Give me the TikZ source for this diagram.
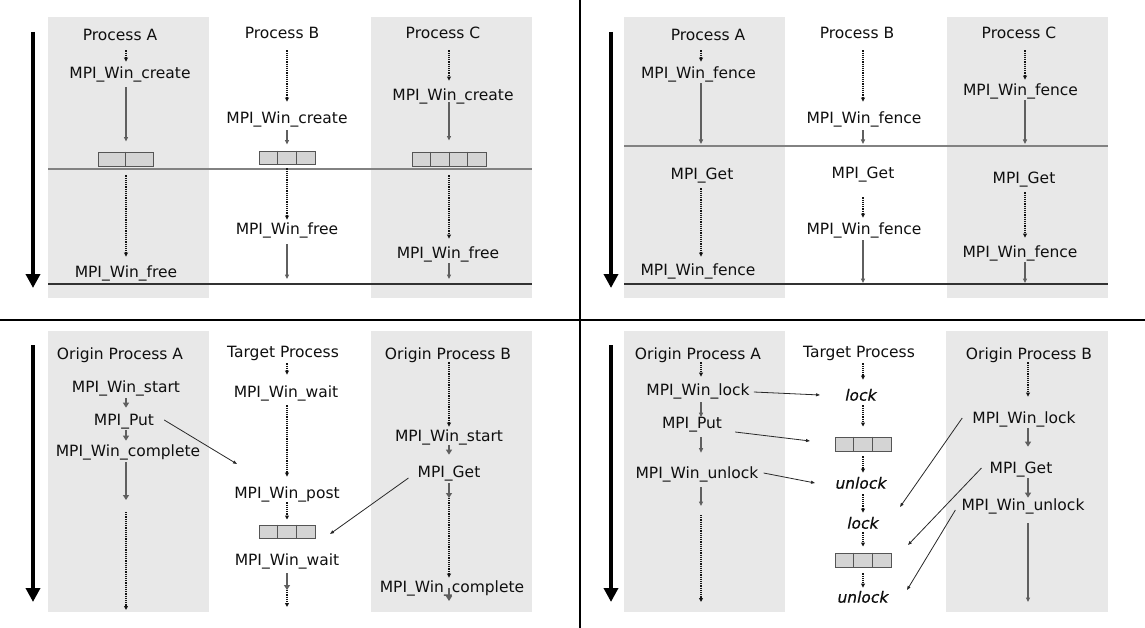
\documentclass[tikz,border=0pt]{standalone}
\usepackage{fontspec}
\setmainfont{DejaVu Sans}
\newfontfamily\obfont{DejaVu Sans}[FakeSlant=0.2,FakeBold=0.6]
\usetikzlibrary{arrows.meta,calc}

\definecolor{lanebg}{RGB}{232,232,232}
\definecolor{winfill}{RGB}{212,212,212}
\definecolor{winedge}{RGB}{85,85,85}
\definecolor{dotc}{RGB}{20,20,20}
\definecolor{solc}{RGB}{95,95,95}
\definecolor{diagc}{RGB}{40,40,40}
\definecolor{fencec}{RGB}{130,130,130}
\definecolor{endc}{RGB}{50,50,50}
\definecolor{txt}{RGB}{15,15,15}

% split a window node into #2 equal cells
\newcommand\splitwin[2]{%
  \pgfmathtruncatemacro\lastdiv{#2-1}%
  \foreach \k in {1,...,\lastdiv}{%
    \draw[winsep] ($(#1.north west)!\k/#2!(#1.north east)$) -- ($(#1.south west)!\k/#2!(#1.south east)$);}}

\begin{document}
\begin{tikzpicture}[x=1pt,y=-1pt,
  lbl/.style={font=\fontsize{15.5}{18}\selectfont, text=txt, inner sep=0pt, text height=11.3pt, text depth=0pt},
  ob/.style={lbl, font=\fontsize{15.5}{18}\selectfont\obfont},
  lane/.style={fill=lanebg, draw=none},
  winbox/.style={draw=winedge, fill=winfill, line width=0.9pt, inner sep=0pt, minimum height=14pt},
  winsep/.style={draw=winedge, line width=0.9pt},
  dotarr/.style={draw=dotc, line width=1.25pt, dash pattern=on 1.2pt off 1pt, -{Triangle[length=4pt,width=3.8pt]}},
  solarr/.style={draw=solc, line width=1.1pt, -{Triangle[length=4.5pt,width=4pt]}},
  fatarr/.style={draw=solc, line width=2.2pt, -{Triangle[length=5pt,width=6pt]}},
  diagarr/.style={draw=diagc, line width=0.8pt, -{Triangle[length=4pt,width=3pt]}},
  timearr/.style={line width=4.5pt, -{Triangle[length=14pt,width=14pt]}},
  fenceline/.style={draw=fencec, line width=1.3pt},
  endline/.style={draw=endc, line width=1.2pt},
  divider/.style={line width=2.8pt},
  sh/.style 2 args={shorten <=#1pt, shorten >=#2pt},
]
\useasboundingbox (0,0) rectangle (1145,628);

% ---------- process lanes ----------
\fill[lane] (48,17) rectangle (209,298);
\fill[lane] (371,17) rectangle (532,298);
\fill[lane] (624,17) rectangle (785,298);
\fill[lane] (947,17) rectangle (1108,298);
\fill[lane] (48,331) rectangle (209,612);
\fill[lane] (371,331) rectangle (532,612);
\fill[lane] (624,331) rectangle (785,612);
\fill[lane] (946,331) rectangle (1108,612);

% ---------- synchronisation lines ----------
\draw[fenceline] (48,169) -- (532,169);
\draw[endline] (48,284) -- (532,284);
\draw[fenceline] (624,146) -- (1108,146);
\draw[endline] (624,284) -- (1108,284);

% ---------- quadrant dividers ----------
\draw[divider] (580,0) -- (580,628);
\draw[divider] (0,320) -- (1145,320);

% ---------- time arrows ----------
\draw[timearr] (33,32) -- (33,288);
\draw[timearr] (611,32) -- (611,288);
\draw[timearr] (33,345) -- (33,602);
\draw[timearr] (611,345) -- (611,602);

% ---------- lane axes and free arrow ends ----------
\coordinate (colA1) at (126,0);
\coordinate (colB1) at (287,0);
\coordinate (colC1) at (449,0);
\coordinate (colA2) at (701,0);
\coordinate (colB2) at (863,0);
\coordinate (colC2) at (1025,0);
\coordinate (colC3) at (1028,0);

\coordinate (tlBend) at (287,279);
\coordinate (tlCend) at (449,279);
\coordinate (trAend) at (701,144);
\coordinate (trBend1) at (863,144);
\coordinate (trCend1) at (1025,144);
\coordinate (trBend2) at (863,283);
\coordinate (trCend2) at (1025,283);
\coordinate (blAmid) at (126,500);
\coordinate (blAend) at (126,610);
\coordinate (blBmid) at (287,590);
\coordinate (blBend) at (287,607);
\coordinate (blCmid) at (449,498);
\coordinate (blCend) at (449,601);
\coordinate (putEnd) at (237,464);
\coordinate (getEnd) at (330,534);
\coordinate (brAmid) at (701,506);
\coordinate (brAend) at (701,602);
\coordinate (brCend) at (1028,602);
\coordinate (lkEnd1) at (820,395);
\coordinate (ptEnd) at (810,441);
\coordinate (ulEnd1) at (815,483);
\coordinate (lkEnd2) at (900,507);
\coordinate (gtEnd) at (908,545);
\coordinate (ulEnd2) at (907,590);

% ================= window creation =================
\node[lbl] (tlPA) at (120,35) {Process A};
\node[lbl] (tlAc) at (130,73) {MPI\_Win\_create};
\node[winbox, minimum width=55pt] (tlAw) at (125.5,159) {};
\node[lbl] (tlAf) at (126,272) {MPI\_Win\_free};
\node[lbl] (tlPB) at (282,33) {Process B};
\node[lbl] (tlBc) at (287,118) {MPI\_Win\_create};
\node[winbox, minimum width=56pt, minimum height=13pt] (tlBw) at (287,157.5) {};
\node[lbl] (tlBf) at (287,229) {MPI\_Win\_free};
\node[lbl] (tlPC) at (443,33) {Process C};
\node[lbl] (tlCc) at (453,95) {MPI\_Win\_create};
\node[winbox, minimum width=74pt] (tlCw) at (449,159) {};
\node[lbl] (tlCf) at (448,253) {MPI\_Win\_free};
\splitwin{tlAw}{2}
\splitwin{tlBw}{3}
\splitwin{tlCw}{4}

\draw[dotarr, sh={9.5}{5.5}] (tlPA.south -| colA1) -- (tlAc.north -| colA1);
\draw[solarr, sh={8.5}{10}] (tlAc.south -| colA1) -- (tlAw.north -| colA1);
\draw[dotarr, sh={9}{9.5}] (tlAw.south -| colA1) -- (tlAf.north -| colA1);
\draw[dotarr, sh={11.5}{10.5}] (tlPB.south -| colB1) -- (tlBc.north -| colB1);
\draw[solarr, sh={6.5}{6}] (tlBc.south -| colB1) -- (tlBw.north -| colB1);
\draw[dotarr, sh={4}{3.5}] (tlBw.south -| colB1) -- (tlBf.north -| colB1);
\draw[solarr, sh={9.5}{0}] (tlBf.south -| colB1) -- (tlBend);
\draw[dotarr, sh={11.5}{8.5}] (tlPC.south -| colC1) -- (tlCc.north -| colC1);
\draw[solarr, sh={1.5}{11}] (tlCc.south -| colC1) -- (tlCw.north -| colC1);
\draw[dotarr, sh={9}{8.5}] (tlCw.south -| colC1) -- (tlCf.north -| colC1);
\draw[solarr, sh={4.5}{0}] (tlCf.south -| colC1) -- (tlCend);

% ================= fence =================
\node[lbl] (trPA) at (708,35) {Process A};
\node[lbl] (trAf1) at (698.5,73) {MPI\_Win\_fence};
\node[lbl] (trAg) at (702,174) {MPI\_Get};
\node[lbl] (trAf2) at (698,270) {MPI\_Win\_fence};
\node[lbl] (trPB) at (857,33) {Process B};
\node[lbl] (trBf1) at (864,118) {MPI\_Win\_fence};
\node[lbl] (trBg) at (863,173) {MPI\_Get};
\node[lbl] (trBf2) at (864,229) {MPI\_Win\_fence};
\node[lbl] (trPC) at (1019,33) {Process C};
\node[lbl] (trCf1) at (1020.5,90) {MPI\_Win\_fence};
\node[lbl] (trCg) at (1024,178) {MPI\_Get};
\node[lbl] (trCf2) at (1020,252) {MPI\_Win\_fence};

\draw[dotarr, sh={9.5}{5.5}] (trPA.south -| colA2) -- (trAf1.north -| colA2);
\draw[solarr, sh={4.5}{0}] (trAf1.south -| colA2) -- (trAend);
\draw[dotarr, sh={8.5}{7.5}] (trAg.south -| colA2) -- (trAf2.north -| colA2);
\draw[dotarr, sh={11.5}{10.5}] (trPB.south -| colB2) -- (trBf1.north -| colB2);
\draw[solarr, sh={6.5}{0}] (trBf1.south -| colB2) -- (trBend1);
\draw[dotarr, sh={18.5}{5.5}] (trBg.south -| colB2) -- (trBf2.north -| colB2);
\draw[solarr, sh={5.5}{0}] (trBf2.south -| colB2) -- (trBend2);
\draw[dotarr, sh={11.5}{4.5}] (trPC.south -| colC2) -- (trCf1.north -| colC2);
\draw[solarr, sh={4.5}{0}] (trCf1.south -| colC2) -- (trCend1);
\draw[dotarr, sh={8.5}{8.5}] (trCg.south -| colC2) -- (trCf2.north -| colC2);
\draw[solarr, sh={4.5}{0}] (trCf2.south -| colC2) -- (trCend2);

% ================= post / start / complete / wait =================
\node[lbl] (blPA) at (120,354) {Origin Process A};
\node[lbl] (blAs) at (126,387) {MPI\_Win\_start};
\node[lbl] (blAp) at (124,420) {MPI\_Put};
\node[lbl] (blAc) at (128,451) {MPI\_Win\_complete};
\node[lbl] (blPB) at (283,352) {Target Process};
\node[lbl] (blBw1) at (286,392) {MPI\_Win\_wait};
\node[lbl] (blBp) at (287,493) {MPI\_Win\_post};
\node[winbox, minimum width=56pt, minimum height=13pt] (blBwin) at (287,531.5) {};
\node[lbl] (blBw2) at (287,560) {MPI\_Win\_wait};
\node[lbl] (blPC) at (448,354) {Origin Process B};
\node[lbl] (blCs) at (449,436) {MPI\_Win\_start};
\node[lbl] (blCg) at (449,472) {MPI\_Get};
\node[lbl] (blCc) at (452,587) {MPI\_Win\_complete};
\splitwin{blBwin}{3}

\draw[fatarr, sh={5.5}{6.5}] (blAs.south -| colA1) -- (blAp.north -| colA1);
\draw[fatarr, sh={4.5}{4.5}] (blAp.south -| colA1) -- (blAc.north -| colA1);
\draw[fatarr, sh={5.5}{0}] (blAc.south -| colA1) -- (blAmid);
\draw[dotarr, sh={12}{0}] (blAmid) -- (blAend);
\draw[dotarr, sh={5.5}{11.5}] (blPB.south -| colB1) -- (blBw1.north -| colB1);
\draw[dotarr, sh={7.5}{10.5}] (blBw1.south -| colB1) -- (blBp.north -| colB1);
\draw[dotarr, sh={3.5}{5}] (blBp.south -| colB1) -- (blBwin.north -| colB1);
\draw[fatarr, sh={7.5}{0}] (blBw2.south -| colB1) -- (blBmid);
\draw[dotarr] (blBmid) -- (blBend);
\draw[dotarr, sh={2.5}{3.5}] (blPC.south -| colC1) -- (blCs.north -| colC1);
\draw[fatarr, sh={3.5}{11.5}] (blCs.south -| colC1) -- (blCg.north -| colC1);
\draw[fatarr, sh={5.5}{0}] (blCg.south -| colC1) -- (blCmid);
\draw[dotarr, sh={0}{3.5}] (blCmid) -- (blCc.north -| colC1);
\draw[fatarr, sh={1}{0}] (blCc.center -| colC1) -- (blCend);
\draw[diagarr] ([xshift=10pt]blAp.east) -- (putEnd);
\draw[diagarr] ([xshift=-9pt,yshift=-6pt]blCg.west) -- (getEnd);

% ================= lock / unlock =================
\node[lbl] (brPA) at (698,354) {Origin Process A};
\node[lbl] (brAl) at (698,390) {MPI\_Win\_lock};
\node[lbl] (brAp) at (692,423) {MPI\_Put};
\node[lbl] (brAu) at (697,473) {MPI\_Win\_unlock};
\node[lbl] (brPB) at (859,352) {Target Process};
\node[ob] (brBl1) at (860,395) {lock};
\node[winbox, minimum width=56pt] (brBw1) at (863,444) {};
\node[ob] (brBu1) at (860,483) {unlock};
\node[ob] (brBl2) at (862,523) {lock};
\node[winbox, minimum width=56pt] (brBw2) at (863,560) {};
\node[ob] (brBu2) at (862,597) {unlock};
\node[lbl] (brPC) at (1029,354) {Origin Process B};
\node[lbl] (brCl) at (1024,418) {MPI\_Win\_lock};
\node[lbl] (brCg) at (1021,468) {MPI\_Get};
\node[lbl] (brCu) at (1023,505) {MPI\_Win\_unlock};
\splitwin{brBw1}{3}
\splitwin{brBw2}{3}

\draw[dotarr, sh={2.5}{7.5}] (brPA.south -| colA2) -- (brAl.north -| colA2);
\draw[solarr, sh={6.5}{0}] (brAl.south -| colA2) -- (brAp.north -| colA2);
\draw[solarr, sh={8.5}{14.5}] (brAp.south -| colA2) -- (brAu.north -| colA2);
\draw[solarr, sh={8.5}{0}] (brAu.south -| colA2) -- (brAmid);
\draw[dotarr, sh={9}{0}] (brAmid) -- (brAend);
\draw[dotarr, sh={5.5}{9.5}] (brPB.south -| colB2) -- (brBl1.north -| colB2);
\draw[dotarr, sh={4.5}{10}] (brBl1.south -| colB2) -- (brBw1.north -| colB2);
\draw[dotarr, sh={5}{4.5}] (brBw1.south -| colB2) -- (brBu1.north -| colB2);
\draw[dotarr, sh={5.5}{4.5}] (brBu1.south -| colB2) -- (brBl2.north -| colB2);
\draw[dotarr, sh={3.5}{6}] (brBl2.south -| colB2) -- (brBw2.north -| colB2);
\draw[dotarr, sh={6}{3.5}] (brBw2.south -| colB2) -- (brBu2.north -| colB2);
\draw[dotarr, sh={2.5}{15.5}] (brPC.south -| colC3) -- (brCl.north -| colC3);
\draw[fatarr, sh={4.5}{15.5}] (brCl.south -| colC3) -- (brCg.north -| colC3);
\draw[fatarr, sh={4.5}{1.5}] (brCg.south -| colC3) -- (brCu.north -| colC3);
\draw[solarr, sh={12.5}{0}] (brCu.south -| colC3) -- (brCend);
\draw[diagarr] ([xshift=4pt,yshift=-2pt]brAl.east) -- (lkEnd1);
\draw[diagarr] ([xshift=13pt,yshift=-9pt]brAp.east) -- (ptEnd);
\draw[diagarr] ([xshift=5pt]brAu.east) -- (ulEnd1);
\draw[diagarr] ([xshift=-10pt]brCl.west) -- (lkEnd2);
\draw[diagarr] ([xshift=-8pt]brCg.west) -- (gtEnd);
\draw[diagarr] ([xshift=-6pt,yshift=-5pt]brCu.west) -- (ulEnd2);
\end{tikzpicture}
\end{document}
